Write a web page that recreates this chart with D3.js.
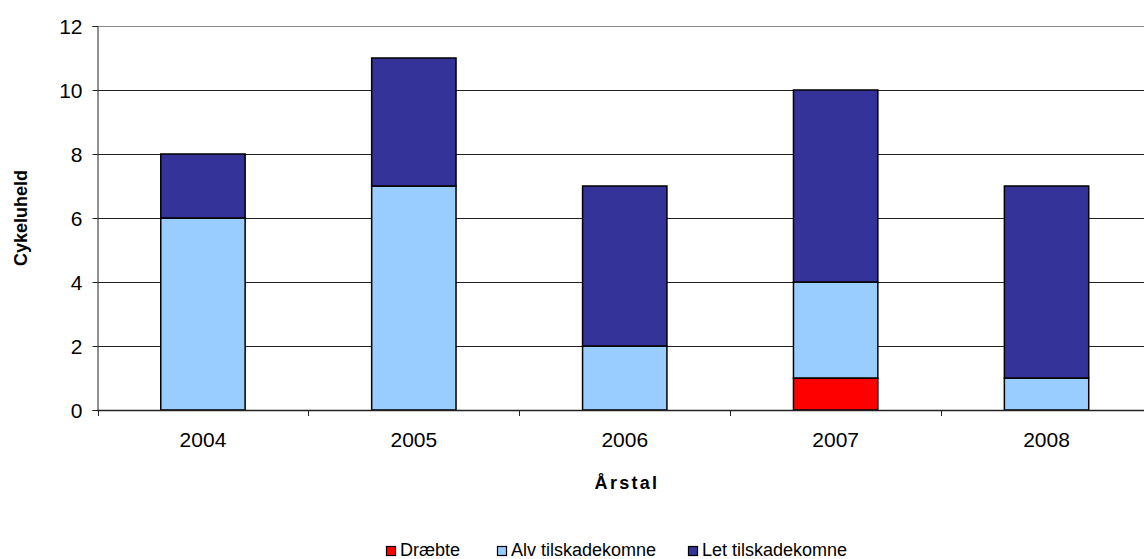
<!DOCTYPE html>
<html><head><meta charset="utf-8">
<script src="https://cdn.jsdelivr.net/npm/d3@7"></script>
<style>body{margin:0;background:#fff}svg{display:block;font-family:Arial,"Liberation Sans",sans-serif}</style>
</head><body>
<svg id="c" width="1144" height="559"></svg>
<script>
const years = ["2004","2005","2006","2007","2008"];
const seriesNames = ["Dræbte","Alv tilskadekomne","Let tilskadekomne"];
const draebte = [0,0,0,1,0];
const alv = [6,7,2,3,1];
const letT = [2,4,5,6,6];
const yTicks = [0,2,4,6,8,10,12];
const colors = ["#FF0000","#99CCFF","#333399"];

const FF = "Arial, 'Liberation Sans', sans-serif";
const svg = d3.select("#c");
const x0 = 97.5, x1 = 1152, yTop = 26, yBot = 410;
const x = d3.scaleBand().domain(years).range([x0,x1]).paddingInner(0.6).paddingOuter(0.3);
const y = d3.scaleLinear().domain([0,12]).range([yBot,yTop]);

// gridlines
svg.append("g").selectAll("line").data(yTicks.filter(d=>d>0)).join("line")
  .attr("x1",x0).attr("x2",1144).attr("y1",d=>Math.round(y(d))+0.5).attr("y2",d=>Math.round(y(d))+0.5)
  .attr("stroke",d=>d===12?"#888":"#222").attr("stroke-width",1);

// stacked data
const rows = years.map((yr,i)=>({year:yr,"Dræbte":draebte[i],"Alv tilskadekomne":alv[i],"Let tilskadekomne":letT[i]}));
const stack = d3.stack().keys(seriesNames)(rows);
const gBars = svg.append("g");
stack.forEach((s,si)=>{
  gBars.selectAll(null).data(s.filter(d=>d[1]-d[0]>0)).join("rect")
    .attr("x",d=>x(d.data.year)).attr("width",x.bandwidth())
    .attr("y",d=>y(d[1])).attr("height",d=>y(d[0])-y(d[1]))
    .attr("fill",colors[si]).attr("stroke","#000").attr("stroke-width",1.5);
});

// y axis
const yAxis = d3.axisLeft(y).tickValues(yTicks).tickSize(5).tickPadding(10);
const gy = svg.append("g").attr("transform",`translate(${x0},0)`).call(yAxis);
gy.select(".domain").attr("stroke","#222");
gy.selectAll(".tick line").attr("stroke","#222");
gy.selectAll("text").attr("font-size",21).attr("fill","#000").attr("font-family",FF).attr("dy","0.35em");

// x axis
const step = x.step();
const xAxis = d3.axisBottom(x).tickSize(0).tickPadding(22);
const gx = svg.append("g").attr("transform",`translate(0,${yBot})`).call(xAxis);
gx.select(".domain").remove();
gx.selectAll("text").attr("font-size",21).attr("fill","#000").attr("font-family",FF);
svg.append("line").attr("x1",x0).attr("x2",1144).attr("y1",yBot+0.5).attr("y2",yBot+0.5).attr("stroke","#222").attr("stroke-width",1.5);
const boundaries = d3.range(0,years.length).map(i=>x0+i*step);
svg.append("g").selectAll("line").data(boundaries).join("line")
  .attr("x1",d=>Math.round(d)+0.5).attr("x2",d=>Math.round(d)+0.5).attr("y1",yBot).attr("y2",yBot+6).attr("stroke","#222");

// axis titles
svg.append("text").attr("transform","translate(27,218) rotate(-90)").attr("text-anchor","middle")
  .attr("font-size",18).attr("font-weight","bold").text("Cykeluheld");
svg.append("text").attr("x",627).attr("y",489).attr("text-anchor","middle")
  .attr("font-size",18).attr("font-weight","bold").attr("letter-spacing",2.3).text("Årstal");

// legend
const legendX = [386,497,688];
const lg = svg.append("g");
seriesNames.forEach((n,i)=>{
  lg.append("rect").attr("x",legendX[i]+0.5).attr("y",546.5).attr("width",9).attr("height",9)
    .attr("fill",colors[i]).attr("stroke","#000").attr("stroke-width",1.2);
  lg.append("text").attr("x",legendX[i]+14).attr("y",556).attr("font-size",18).text(n);
});
</script>
</body></html>
